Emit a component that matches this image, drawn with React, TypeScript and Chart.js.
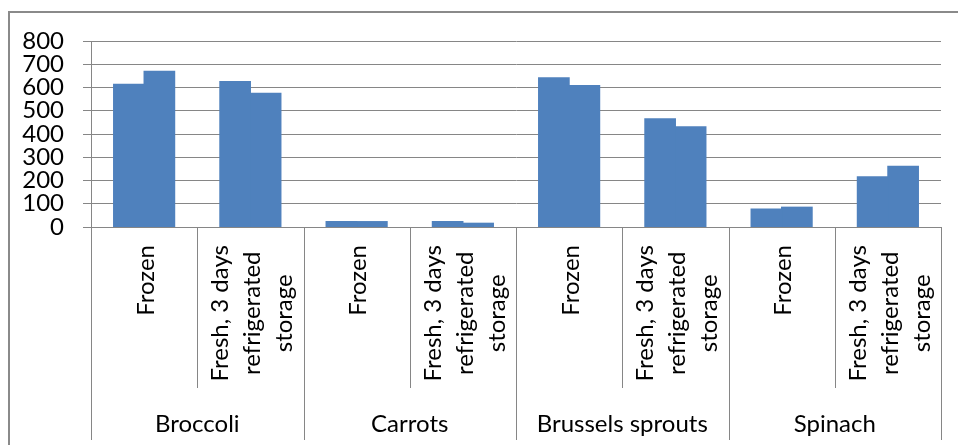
import React, { useEffect, useRef } from "react";
import { Chart, registerables } from "chart.js";

Chart.register(...registerables);

// ---- data ----
const vegetables = ["Broccoli", "Carrots", "Brussels sprouts", "Spinach"];
const conditions: string[][] = [["Frozen"], ["Fresh, 3 days", "refrigerated", "storage"]];
const seriesA = [614, 625, 23, 23, 641, 465, 77, 216];
const seriesB = [670, 575, 23, 16, 608, 431, 85, 261];
const yMin = 0;
const yMax = 800;
const yStep = 100;

const categories: string[] = [];
vegetables.forEach((v) => conditions.forEach((c) => categories.push(v + " - " + c.join(" "))));

// ---- styles ----
const FONT = 'Lato, "Open Sans", sans-serif';
const FONT_SIZE = 24;
const TEXT = "#000000";
const GRID = "#868686";
const BAR = "#4F81BD";

const multiAxisPlugin = {
  id: "multiAxis",
  afterDraw(chart: any) {
    const ctx = chart.ctx as CanvasRenderingContext2D;
    const xs = chart.scales.x;
    const y0 = Math.round(chart.scales.y.getPixelForValue(0));
    const n = categories.length;
    const per = conditions.length;
    ctx.save();
    // outer frame (top and left edges visible)
    ctx.strokeStyle = "#8a8a8a";
    ctx.lineWidth = 2;
    ctx.beginPath();
    ctx.moveTo(9, chart.height);
    ctx.lineTo(9, 12);
    ctx.lineTo(chart.width, 12);
    ctx.stroke();

    // separators
    ctx.strokeStyle = GRID;
    ctx.lineWidth = 1;
    for (let k = 0; k <= n; k++) {
      const px = Math.round(xs.getPixelForValue(k - 0.5)) + 0.5;
      const bottom = k % per === 0 ? 440 : 388;
      ctx.beginPath();
      ctx.moveTo(px, y0);
      ctx.lineTo(px, bottom);
      ctx.stroke();
    }

    // condition labels (rotated)
    ctx.fillStyle = TEXT;
    ctx.font = `${FONT_SIZE}px ${FONT}`;
    ctx.textBaseline = "middle";
    ctx.textAlign = "center";
    const lh = 32;
    for (let i = 0; i < n; i++) {
      const lines = conditions[i % per];
      const cx = xs.getPixelForValue(i);
      const w = Math.max(...lines.map((l) => ctx.measureText(l).width));
      ctx.save();
      ctx.translate(cx + 2, 245 + w / 2);
      ctx.rotate(-Math.PI / 2);
      lines.forEach((l, j) => {
        ctx.fillText(l, 0, (j - (lines.length - 1) / 2) * lh);
      });
      ctx.restore();
    }

    // vegetable labels
    for (let g = 0; g < vegetables.length; g++) {
      const a = xs.getPixelForValue(g * per - 0.5);
      const b = xs.getPixelForValue(g * per + per - 0.5);
      ctx.fillText(vegetables[g], (a + b) / 2, 424);
    }
    ctx.restore();
  },
};

export default function App() {
  const ref = useRef<HTMLCanvasElement | null>(null);
  useEffect(() => {
    document.body.style.margin = "0";
    if (!ref.current) return;
    const barStyle = {
      backgroundColor: BAR,
      borderWidth: 0,
      categoryPercentage: 0.574,
      barPercentage: 1.0,
      inflateAmount: 0.6,
    };
    const chart = new Chart(ref.current, {
      type: "bar",
      data: {
        labels: categories,
        datasets: [
          { data: seriesA, ...barStyle },
          { data: seriesB, ...barStyle },
        ],
      },
      options: {
        animation: false,
        responsive: false,
        maintainAspectRatio: false,
        layout: { padding: { top: 41, right: 17, left: 0, bottom: 0 } },
        plugins: { legend: { display: false }, tooltip: { enabled: false } },
        scales: {
          x: {
            grid: { display: false, drawTicks: false },
            border: { display: false },
            ticks: { display: false },
            afterFit: (s: any) => {
              s.height = 218;
            },
          },
          y: {
            min: yMin,
            max: yMax,
            ticks: {
              stepSize: yStep,
              autoSkip: false,
              padding: 19,
              color: TEXT,
              font: { family: FONT, size: FONT_SIZE, lineHeight: 1 },
            },
            grid: { color: GRID, tickLength: 8, drawTicks: true },
            border: { display: true, color: GRID },
            afterFit: (s: any) => {
              s.width = 91;
            },
          },
        },
      },
      plugins: [multiAxisPlugin],
    });
    return () => chart.destroy();
  }, []);
  return (
    <div style={{ position: "fixed", left: 0, top: 0, width: 958, height: 445, background: "#fff" }}>
      <canvas ref={ref} width={958} height={445} />
    </div>
  );
}
